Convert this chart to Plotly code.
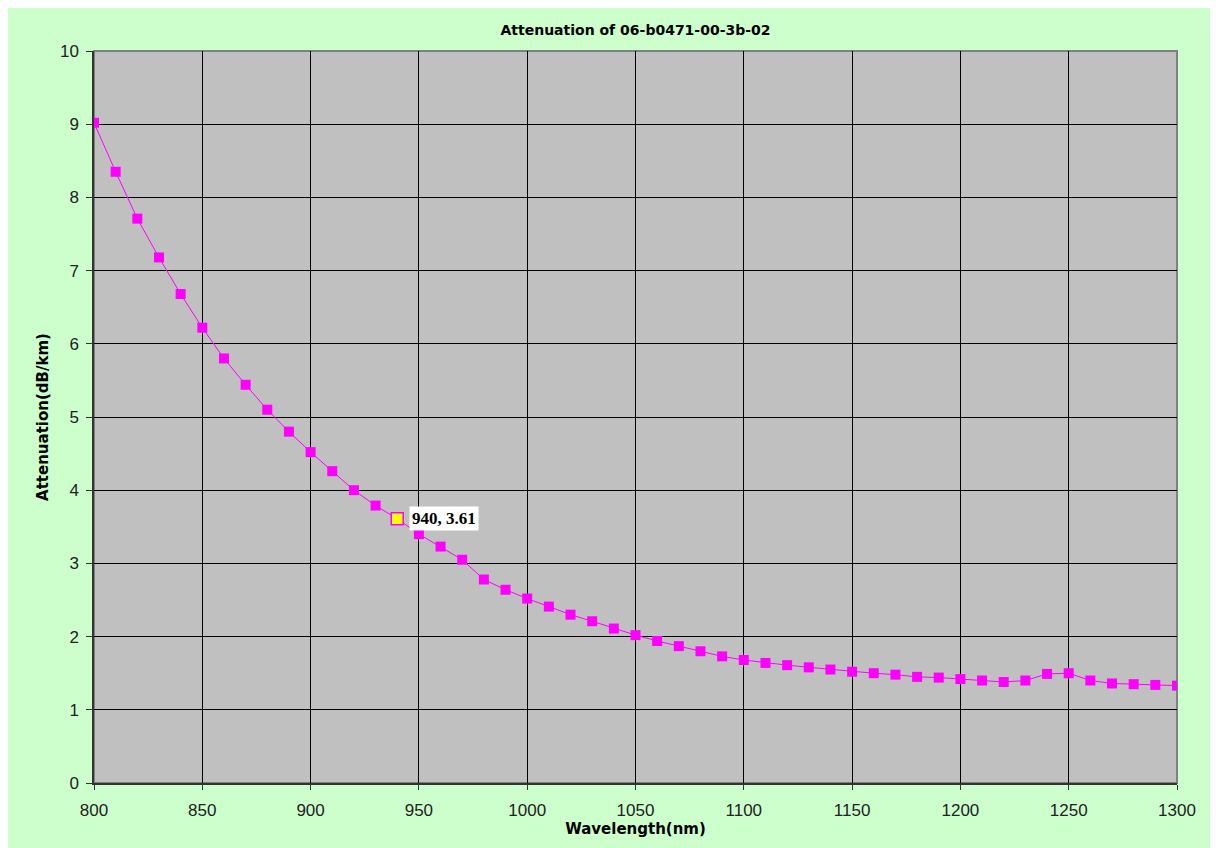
import plotly.graph_objects as go

wavelength = list(range(800, 1301, 10))
attenuation = [9.02, 8.35, 7.71, 7.18, 6.68, 6.22, 5.80, 5.44, 5.10, 4.80,
               4.52, 4.26, 4.00, 3.79, 3.61, 3.40, 3.23, 3.05, 2.78, 2.64,
               2.52, 2.41, 2.30, 2.21, 2.11, 2.02, 1.94, 1.87, 1.80, 1.73,
               1.68, 1.64, 1.61, 1.58, 1.55, 1.52, 1.50, 1.48, 1.45, 1.44,
               1.42, 1.40, 1.38, 1.40, 1.49, 1.50, 1.40, 1.36, 1.35, 1.34,
               1.33]
highlight_x = 940
highlight_y = 3.61
x_ticks = list(range(800, 1301, 50))
y_ticks = list(range(0, 11))

fig = go.Figure()
fig.add_trace(go.Scatter(
    x=wavelength, y=attenuation, mode="lines+markers",
    line=dict(color="#FF00FF", width=1),
    marker=dict(symbol="square", size=10, color="#FF00FF",
                line=dict(color="#FF00FF", width=0)),
    hoverinfo="x+y", showlegend=False))
fig.add_trace(go.Scatter(
    x=[highlight_x], y=[highlight_y], mode="markers",
    marker=dict(symbol="square", size=12, color="#FFFF00",
                line=dict(color="#FF00FF", width=1.5)),
    showlegend=False))

fig.add_annotation(x=highlight_x, y=highlight_y, xref="x", yref="y",
                   text=f"{highlight_x}, {highlight_y:.2f}", showarrow=False,
                   xanchor="left", yanchor="middle", xshift=12,
                   bgcolor="white", borderpad=2,
                   font=dict(family="Liberation Serif", size=17, color="black", weight="bold"))

# plot area background with grey frame
fig.add_shape(type="rect", xref="paper", yref="paper", x0=0, x1=1, y0=0, y1=1,
              fillcolor="#C0C0C0", line=dict(color="#808080", width=2), layer="below")

tick_font = dict(family="Liberation Sans", size=17, color="#222222")

fig.update_layout(
    width=1210, height=840,
    margin=dict(l=86, r=41, t=43, b=65),
    paper_bgcolor="#CCFFCC", plot_bgcolor="#C0C0C0",
    title=dict(text="<b>Attenuation of 06-b0471-00-3b-02</b>", x=0.5, xref="paper",
               xanchor="center", y=1 - 22/840, yanchor="middle",
               font=dict(family="DejaVu Sans", size=14, color="black")),
    font=dict(family="Liberation Sans", size=17, color="#222222"),
)
fig.update_xaxes(range=[800, 1300], tickvals=x_ticks, showgrid=True,
                 gridcolor="black", gridwidth=1.3, tickfont=tick_font,
                 ticklabelstandoff=6,
                 showline=True, linecolor="#333333", linewidth=1.5, mirror=False,
                 ticks="outside", ticklen=5, tickcolor="#333333",
                 zeroline=False,
                 title=dict(text="<b>Wavelength(nm)</b>", standoff=2,
                            font=dict(family="DejaVu Sans", size=15, color="black")))
fig.update_yaxes(range=[0, 10], tickvals=y_ticks, showgrid=True,
                 gridcolor="black", gridwidth=1.3, tickfont=tick_font,
                 ticklabelstandoff=4,
                 showline=True, linecolor="#333333", linewidth=1.5,
                 ticks="outside", ticklen=6, tickcolor="#333333",
                 zeroline=False,
                 title=dict(text="<b>Attenuation(dB/km)</b>", standoff=8,
                            font=dict(family="DejaVu Sans", size=15, color="black")))

fig.write_html("out.html")
